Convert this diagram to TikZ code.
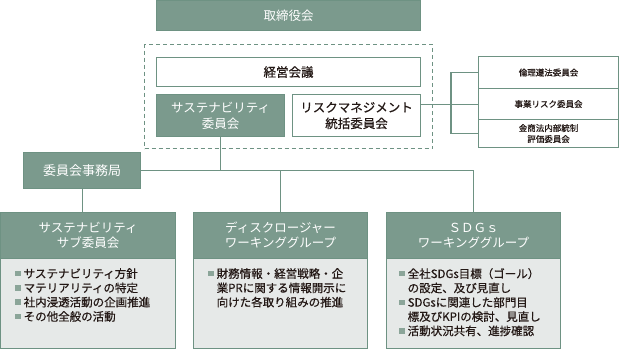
\documentclass[tikz,border=0pt]{standalone}
\usepackage{fontspec}
\setmainfont{Noto Sans CJK JP}
\newfontfamily\medfont{Noto Sans CJK JP}[FakeBold=0.6]
\usetikzlibrary{positioning,calc}
\definecolor{grnfill}{HTML}{7B9A8D}
\definecolor{grnline}{HTML}{6E9283}
\definecolor{bodyfill}{HTML}{E6E9E8}
\definecolor{sqcol}{HTML}{8BA599}
\definecolor{txtdark}{HTML}{231815}
\tikzset{
  gblk/.style={draw=grnline, fill=grnfill, text=white, rectangle, line width=1.1pt, inner sep=0pt, align=center, anchor=north west, font=\fontsize{12.5}{16}\selectfont},
  wblk/.style={draw=grnline, fill=white, text=txtdark, rectangle, line width=1.1pt, inner sep=0pt, align=center, anchor=north west, font=\medfont\fontsize{12.5}{16}\selectfont},
  sblk/.style={wblk, font=\medfont\fontsize{8.5}{11}\selectfont},
  hblk/.style={gblk, minimum width=174pt, minimum height=46pt, font=\fontsize{12.5}{15}\selectfont},
  bblk/.style={draw=grnline, fill=bodyfill, rectangle, line width=1.1pt, inner sep=0pt, anchor=north west, minimum width=174pt, minimum height=90pt},
  btxt/.style={align=left, inner sep=0pt, anchor=north west, text=txtdark, font=\medfont\fontsize{11.5}{14.3}\selectfont},
  frm/.style={draw=grnline, dashed, dash pattern=on 4pt off 3pt, line width=1pt, rectangle, inner sep=0pt, anchor=north west},
  ln/.style={draw=grnline, line width=1.1pt},
}
\newcommand{\sq}{\textcolor{sqcol}{\rule[1.6pt]{5.5pt}{5.5pt}}\hspace{3pt}}
\newcommand{\ind}{\hspace{8.5pt}}

\begin{document}
\begin{tikzpicture}[x=1pt, y=-1pt]
\useasboundingbox (0,0) rectangle (621,349);

% board and management
\node[gblk, minimum width=264pt, minimum height=30pt] (board) at (156,0) {取締役会};
\node[frm, minimum width=288pt, minimum height=104pt] (frame) at (144,44) {};
\node[wblk, minimum width=264pt, minimum height=29pt] (keiei) at (156,57) {経営会議};
\node[gblk, minimum width=128pt, minimum height=42pt] (susc) at (156,94) {サステナビリティ\\委員会};
\node[wblk, minimum width=128pt, minimum height=42pt] (risk) at (292,94) {リスクマネジメント\\統括委員会};

% risk sub committees
\node[sblk, minimum width=140pt, minimum height=32pt] (rinri) at (478,56) {倫理遵法委員会};
\node[sblk, minimum width=140pt, minimum height=31pt] (jigyo) at (478,88) {事業リスク委員会};
\node[sblk, minimum width=140pt, minimum height=28pt] (kinsho) at (478,119) {金商法内部統制\\評価委員会};
\coordinate (br) at (451,0);

\node[gblk, minimum width=117pt, minimum height=36pt, font=\fontsize{13}{16}\selectfont] (jimu) at (23,152) {委員会事務局};

% working groups
\node[hblk, minimum width=175pt] (subH) at (0,212) {サステナビリティ\\サブ委員会};
\node[bblk, minimum width=175pt] (subB) at (0,258) {};
\node[btxt] (subT) at ($(subB.north west)+(15,10)$)
  {\sq サステナビリティ方針\\\sq マテリアリティの特定\\\sq 社内浸透活動の企画推進\\\sq その他全般の活動};

\node[hblk] (discH) at (193,212) {ディスクロージャー\\ワーキンググループ};
\node[bblk] (discB) at (193,258) {};
\node[btxt] (discT) at ($(discB.north west)+(15,10)$)
  {\sq 財務情報・経営戦略・企\\\ind 業PRに関する情報開示に\\\ind 向けた各取り組みの推進};

\node[hblk] (sdgsH) at (386,212) {ＳＤＧｓ\\ワーキンググループ};
\node[bblk] (sdgsB) at (386,258) {};
\node[btxt] (sdgsT) at ($(sdgsB.north west)+(13,10)$)
  {\sq 全社SDGs目標（ゴール）\\\ind の設定、及び見直し\\\sq SDGsに関連した部門目\\\ind 標及びKPIの検討、見直し\\\sq 活動状況共有、進捗確認};

\draw[ln] (susc.south) -- (susc.south |- jimu.east);
\draw[ln] (jimu.east) -- (jimu.east -| sdgsH.north) -- (sdgsH.north);
\draw[ln] (discH.north |- jimu.east) -- (discH.north);
\draw[ln] (jimu.south) -- (jimu.south |- subH.north);
\draw[ln] (risk.east |- jigyo.west) -- (jigyo.west);
\draw[ln] (rinri.west) -- (rinri.west -| br) -- (kinsho.west -| br) -- (kinsho.west);

\end{tikzpicture}
\end{document}
